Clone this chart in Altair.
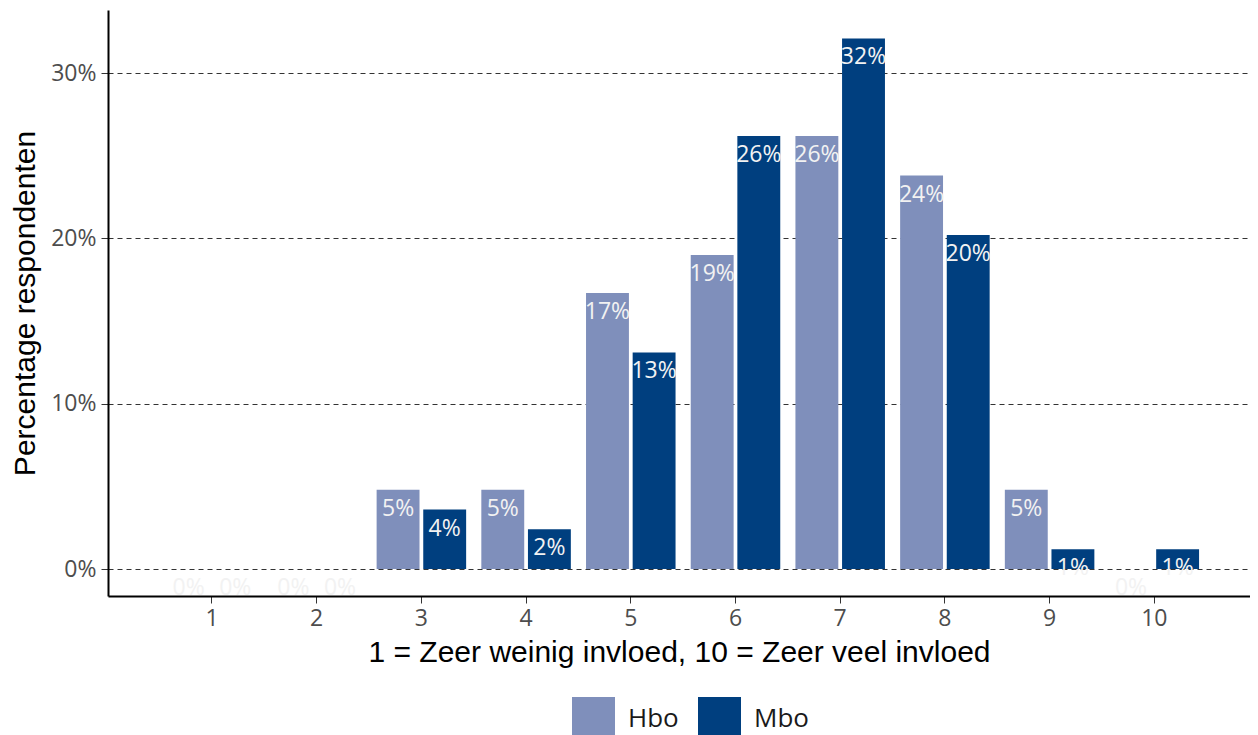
import altair as alt
import pandas as pd

scores = ["1", "2", "3", "4", "5", "6", "7", "8", "9", "10"]
groups = ["Hbo", "Mbo"]
hbo_pct = [0.0, 0.0, 4.8, 4.8, 16.7, 19.0, 26.2, 23.8, 4.8, 0.0]
mbo_pct = [0.0, 0.0, 3.6, 2.4, 13.1, 26.2, 32.1, 20.2, 1.2, 1.2]
colors = ["#7f8fbb", "#003f7f"]
y_ticks = [0, 10, 20, 30]

records = []
for s, h, m in zip(scores, hbo_pct, mbo_pct):
    for g, v in (("Hbo", h), ("Mbo", m)):
        records.append({"score": s, "group": g, "pct": v, "label": f"{round(v)}%"})
df = pd.DataFrame(records)

x_enc = alt.X(
    "score:N",
    sort=scores,
    scale=alt.Scale(paddingInner=0.145, paddingOuter=0.526, align=0.5376),
    axis=alt.Axis(
        title="1 = Zeer weinig invloed, 10 = Zeer veel invloed",
        labelAngle=0,
        grid=False,
        tickSize=7,
        tickColor="#333333",
        domainColor="black",
        domainWidth=2,
        labelFontSize=23,
        labelFont="Open Sans",
        labelColor="#4d4d4d",
        labelPadding=4,
        titleFontSize=30,
        titleFont="Liberation Sans",
        titleFontWeight="normal",
        titleColor="black",
        titlePadding=7,
    ),
)
xoff_enc = alt.XOffset("group:N", sort=groups, scale=alt.Scale(paddingInner=0.08, paddingOuter=0))
y_scale = alt.Scale(domain=[-1.633, 33.82], nice=False, zero=False)
y_enc = alt.Y(
    "pct:Q",
    scale=y_scale,
    axis=alt.Axis(
        values=y_ticks,
        labelExpr="datum.value + '%'",
        title="Percentage respondenten",
        grid=True,
        gridDash=[5, 4],
        gridColor="#333333",
        gridWidth=1,
        tickSize=7,
        tickColor="#333333",
        domainColor="black",
        domainWidth=2,
        labelFontSize=23,
        labelFont="Open Sans",
        labelColor="#4d4d4d",
        labelPadding=5,
        titleFontSize=30,
        titleFont="Liberation Sans",
        titleFontWeight="normal",
        titleColor="black",
        titlePadding=10,
    ),
)

bars = alt.Chart(df).mark_bar().encode(
    x=x_enc,
    xOffset=xoff_enc,
    y=y_enc,
    y2=alt.datum(0),
    color=alt.Color(
        "group:N",
        scale=alt.Scale(domain=groups, range=colors),
        legend=alt.Legend(
            title=None,
            orient="none",
            legendX=464,
            legendY=687,
            direction="horizontal",
            symbolType="square",
            symbolSize=1849,
            symbolStrokeWidth=0,
            symbolOpacity=1,
            labelFontSize=26,
            labelFont="Open Sans",
            labelColor="#1a1a1a",
            labelOffset=13,
            columnPadding=19,
            padding=0,
        ),
    ),
)

labels = alt.Chart(df).mark_text(
    baseline="middle", dy=19, fontSize=23, font="Open Sans", color="#f2f2f2"
).encode(
    x=alt.X("score:N", sort=scores),
    xOffset=alt.XOffset("group:N", sort=groups),
    y=alt.Y("pct:Q"),
    text="label:N",
)

chart = (
    alt.layer(bars, labels)
    .properties(
        width=1142,
        height=586,
        autosize=alt.AutoSizeParams(type="none"),
        padding={"left": 100, "top": 2, "right": 0, "bottom": 139},
    )
    .configure_view(stroke=None)
)

chart.save("out.html", embed_options={"renderer": "svg", "actions": False})
